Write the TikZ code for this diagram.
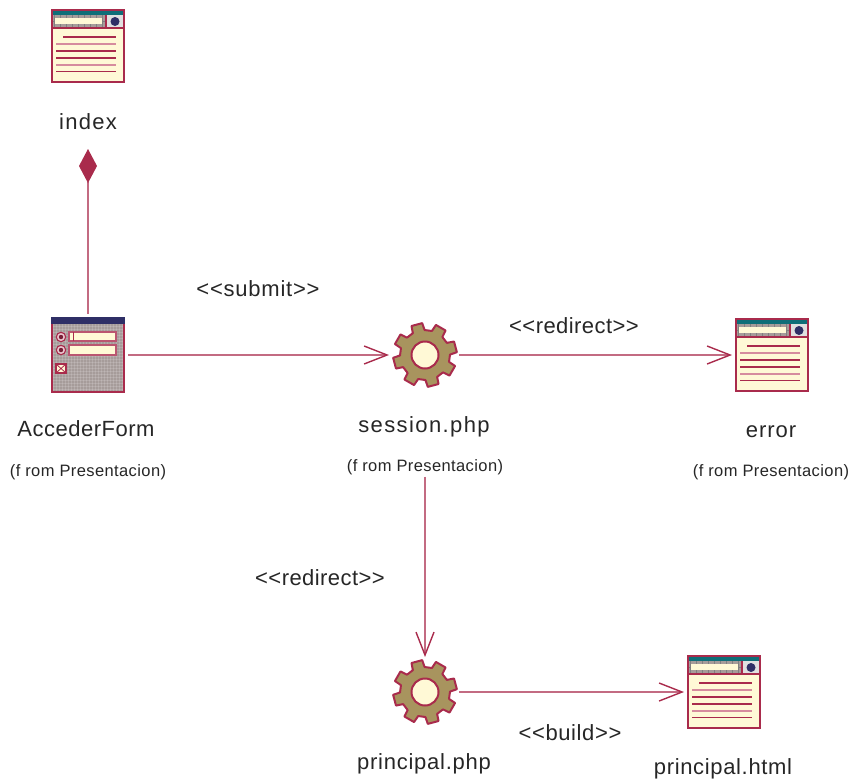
\documentclass[tikz,border=0pt]{standalone}
\usepackage{fontspec}
\setmainfont{Liberation Sans}
\usetikzlibrary{arrows.meta}
\definecolor{rose}{HTML}{A92B4C}
\definecolor{roselt}{HTML}{D68C9E}
\definecolor{cream}{HTML}{FFF9D6}
\definecolor{teal2}{HTML}{0F6E78}
\definecolor{navy}{HTML}{2F2F66}
\definecolor{stone}{HTML}{A69C9A}
\definecolor{olive}{HTML}{A8945E}
\newcommand{\lsp}[1]{\addfontfeature{LetterSpace=#1}}
\tikzset{
  iconbox/.style={minimum width=74pt,minimum height=74pt,inner sep=0pt,outer sep=0pt,anchor=center},
  gearbox/.style={minimum width=64pt,minimum height=64pt,inner sep=0pt,outer sep=0pt,circle},
  bigtext/.style={font=\fontsize{22}{24}\selectfont\lsp{#1},text=black!85,inner sep=0pt,anchor=base},
  smalltext/.style={font=\fontsize{16.5}{18}\selectfont\lsp{2.4},text=black!85,inner sep=0pt,anchor=base},
  conn/.style={draw=rose!70,line width=1.2pt},
  flow/.style={conn,-{Straight Barb[length=23pt,width=18pt,line width=1.4pt,color=rose]}},
  pagepic/.pic={
    \fill[cream] (-36,-36) rectangle (36,36);
    \fill[stone] (-36,-31) rectangle (36,-18);
    \foreach \i in {-34,-28,...,18} \draw[black!50,line width=0.8pt] (\i,-31) -- (\i,-18);
    \draw[black!50,line width=0.8pt] (-36,-25) -- (18,-25);
    \fill[cream] (-33,-28) rectangle (14,-22);
    \fill[black!12] (18,-31) rectangle (36,-18);
    \fill[navy] (27,-24.5) circle (4.5);
    \fill[teal2] (-36,-36) rectangle (36,-31);
    \draw[rose,line width=1.3pt] (18,-31) -- (18,-18);
    \draw[rose,line width=1.5pt] (-36,-18) -- (36,-18);
    \draw[rose,line width=2.2pt] (-36,-36) rectangle (36,36);
    \foreach \y/\a/\c in {-9/-25/rose,-2/-32/roselt,5/-32/rose,12/-32/rose,19/-32/roselt,25.5/-32/rose}
      \draw[\c,line width=1.2pt] (\a,\y) -- (28,\y);
  },
  formpic/.pic={
    \fill[stone] (-36,-37) rectangle (36,37);
    \foreach \i in {-35,-32,...,36} {
      \draw[white,opacity=.15,line width=.9pt] (\i,-37) -- (\i,37);
      \draw[white,opacity=.15,line width=.9pt] (-36,\i) -- (36,\i);
    }
    \draw[rose,line width=2.2pt] (-36,-31) -- (-36,37) -- (36,37) -- (36,-31);
    \fill[navy] (-37,-38) rectangle (37,-31);
    \foreach \y/\t/\b in {-18/-23/-14,-5/-10/0} {
      \fill[roselt!50] (-27,\y) circle (4.7);
      \draw[rose,line width=1.1pt] (-27,\y) circle (4.7);
      \fill[rose!70!black] (-27,\y) circle (2.2);
      \filldraw[fill=cream,draw=rose!80,line width=1.3pt] (-19,\t) rectangle (28,\b);
    }
    \draw[rose,line width=1pt] (-15,-23) -- (-15,-14);
    \filldraw[fill=cream,draw=rose,line width=1.3pt] (-32,9) rectangle (-22,18);
    \draw[rose,line width=.8pt] (-32,9) -- (-22,18) (-32,18) -- (-22,9);
  },
  gearpic/.pic={
    \filldraw[fill=olive,draw=rose,line width=2pt,line join=round]
      (-25:32)
      \foreach \k in {0,45,...,315} {
        -- ({\k-15-10}:32) -- ({\k-15+10}:32) -- ({\k-15+14}:25) -- ({\k-15+31}:25)
      } -- cycle;
    \filldraw[fill=cream,draw=rose,line width=2pt] (0,0) circle (13.5);
  },
}
\begin{document}
\begin{tikzpicture}[x=1pt,y=-1pt]
\useasboundingbox (0,0) rectangle (853,782);
% icons
\node[iconbox] (index) at (88,46) {};
\node[iconbox] (form) at (88,355) {};
\node[gearbox] (session) at (425,355) {};
\node[iconbox] (error) at (772,355) {};
\node[gearbox] (principal) at (425,692) {};
\node[iconbox] (html) at (724,692) {};
\pic at (index) {pagepic};
\pic at (form) {formpic};
\pic at (session) {gearpic};
\pic at (error) {pagepic};
\pic at (principal) {gearpic};
\pic at (html) {pagepic};
% labels
\node[bigtext=5.7] (lindex) at (88,129) {index};
\node[bigtext=2.3] (lform) at (86,436) {AccederForm};
\node[bigtext=6.4] (lsession) at (424,432) {session.php};
\node[bigtext=4.5] (lerror) at (771,437) {error};
\node[bigtext=3.4] (lprincipal) at (424,769) {principal.php};
\node[bigtext=3] (lhtml) at (723,774) {principal.html};
\node[smalltext] (fform) at (88,476) {(f rom Presentacion)};
\node[smalltext] (fsession) at (425,471) {(f rom Presentacion)};
\node[smalltext] (ferror) at (771,476) {(f rom Presentacion)};
\node[bigtext=3.5] (submit) at (258,296) {<{}<submit>{}>};
\node[bigtext=2] (redir1) at (574,333) {<{}<redirect>{}>};
\node[bigtext=2] (redir2) at (320,585) {<{}<redirect>{}>};
\node[bigtext=2.8] (build) at (570,740) {<{}<build>{}>};
% connectors
\draw[conn,{Diamond[length=34pt,width=18pt,fill=rose,color=rose]}-,shorten <=66pt,shorten >=4pt] (index.south) -- (form.north);
\draw[flow,shorten <=3pt,shorten >=4pt] (form.east) -- (session.west);
\draw[flow,shorten <=2pt,shorten >=3pt] (session.east) -- (error.west);
\draw[flow,shorten >=3pt] (fsession.south) ++(0,2) -- (principal.north);
\draw[flow,shorten <=2pt,shorten >=3pt] (principal.east) -- (html.west);
\end{tikzpicture}
\end{document}
